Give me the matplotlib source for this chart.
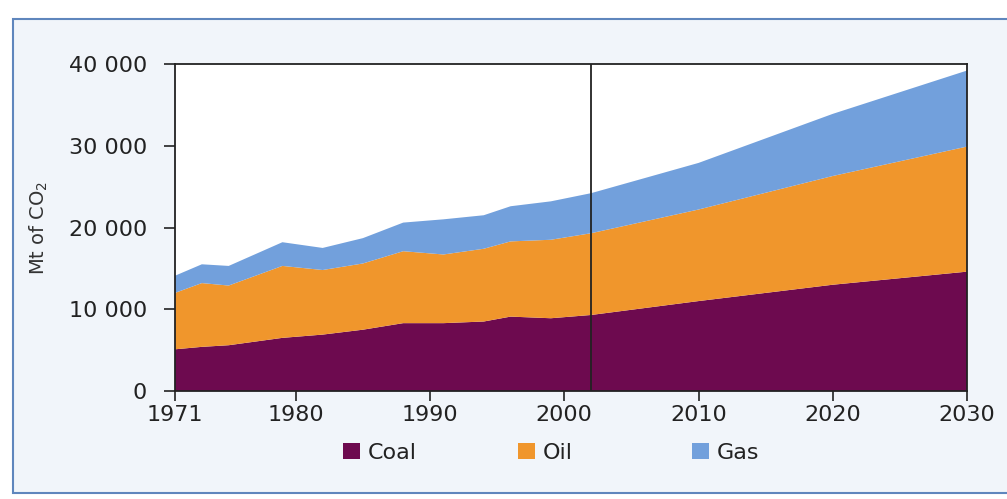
import matplotlib
matplotlib.use("Agg")
import matplotlib.pyplot as plt
from matplotlib.patches import Rectangle, Patch
from matplotlib.ticker import FuncFormatter

years = [1971, 1973, 1975, 1979, 1982, 1985, 1988, 1991, 1994, 1996, 1999, 2002, 2010, 2020, 2030]
coal = [5100, 5400, 5600, 6500, 6900, 7500, 8300, 8300, 8500, 9100, 8900, 9300, 11000, 13000, 14600]
oil = [6900, 7800, 7300, 8800, 7900, 8100, 8800, 8400, 8900, 9200, 9600, 10000, 11200, 13300, 15300]
gas = [2100, 2300, 2400, 2900, 2700, 3100, 3500, 4300, 4100, 4300, 4700, 4900, 5700, 7600, 9300]
labels = ["Coal", "Oil", "Gas"]
colors = ["#6d0a4f", "#f0962c", "#72a0dc"]
xticks = [1971, 1980, 1990, 2000, 2010, 2020, 2030]
yticks = [0, 10000, 20000, 30000, 40000]
divider_year = 2002

W, H = 1007, 499
fig = plt.figure(figsize=(W / 100, H / 100), dpi=100)
fig.patch.set_facecolor("white")
fig.patches.append(Rectangle((13 / W, 6 / H), 1.0, (493 - 19) / H, transform=fig.transFigure,
                             facecolor="#f1f5fa", edgecolor="#5f86bd", linewidth=1.5, zorder=-10))

ax = fig.add_axes([175 / W, (H - 391) / H, (967 - 175) / W, (391 - 64) / H])
ax.set_facecolor("white")
ax.stackplot(years, coal, oil, gas, colors=colors, labels=labels, linewidth=0)
ax.axvline(divider_year, color="#222222", linewidth=1.3)
ax.set_xlim(1971, 2030)
ax.set_ylim(0, 40000)
ax.set_xticks(xticks)
ax.set_yticks(yticks)
ax.yaxis.set_major_formatter(FuncFormatter(lambda v, p: f"{int(v):,}".replace(",", " ")))
for s in ax.spines.values():
    s.set_color("#222222")
    s.set_linewidth(1.3)
ax.tick_params(axis="x", direction="out", length=7, width=1.2, labelsize=16, pad=3, colors="#222222")
ax.tick_params(axis="y", direction="out", length=8, width=1.2, labelsize=16, pad=12, colors="#222222")
ax.set_ylabel("Mt of CO$_2$", fontsize=14, color="#333333", labelpad=14)

for i, (c, lab) in enumerate(zip(colors, labels)):
    x0 = [343, 518, 692][i]
    fig.legend([Patch(facecolor=c, edgecolor="none")], [lab], loc="center left",
               bbox_to_anchor=(x0 / W, (H - 453) / H), frameon=False, fontsize=16,
               handlelength=0.75, handleheight=0.75, handletextpad=0.35, borderpad=0,
               borderaxespad=0, labelcolor="#222222")

fig.savefig("out.png", dpi=100, facecolor=fig.get_facecolor())
